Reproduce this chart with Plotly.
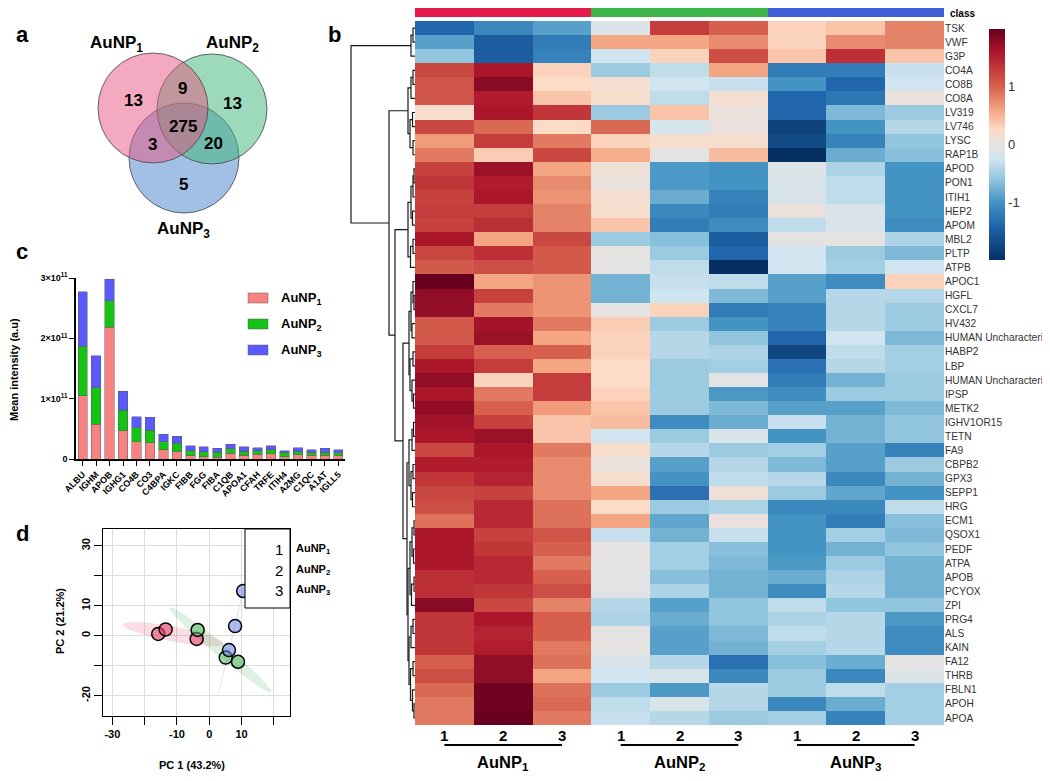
import numpy as np
import plotly.graph_objects as go

# The page body has an 8 px margin, so the figure is sized to fit the
# 1050x781 window exactly and all layout positions are given in window pixels.
OFF = 8
W, H = 1050 - 2 * OFF, 781 - 2 * OFF
FONT = "Liberation Sans, Arial, Helvetica, sans-serif"


def clamp(v):
    return max(0.0, min(1.0, v))


def fx(p):
    return (p - OFF) / W


def fy(p):
    return 1 - (p - OFF) / H


def xdom(a, b):
    return [clamp(fx(a)), clamp(fx(b))]


def ydom(top, bottom):
    return [clamp(fy(bottom)), clamp(fy(top))]


# ------------------------------------------------------------------ data
# (a) Venn diagram
venn_labels = ["AuNP<sub>1</sub>", "AuNP<sub>2</sub>", "AuNP<sub>3</sub>"]
venn_regions = ["1", "12", "2", "123", "13", "23", "3"]
venn_counts = [13, 9, 13, 275, 3, 20, 5]

# (c) stacked bars, mean intensity in units of 1e11
bar_proteins = ["ALBU", "IGHM", "APOB", "IGHG1", "CO4B", "CO3", "C4BPA", "IGKC",
                "FIBB", "FGG", "FIBA", "C1QB", "APOA1", "CFAH", "TRFE", "ITIH4",
                "A2MG", "C1QC", "A1AT", "IGLL5"]
bar_aunp1_e11 = [1.05, 0.575, 2.18, 0.47, 0.287, 0.27, 0.15, 0.12, 0.05, 0.04,
                 0.03, 0.094, 0.06, 0.08, 0.09, 0.04, 0.07, 0.06, 0.06, 0.05]
bar_aunp2_e11 = [0.82, 0.605, 0.44, 0.34, 0.233, 0.21, 0.14, 0.14, 0.09, 0.08,
                 0.08, 0.072, 0.07, 0.06, 0.06, 0.06, 0.05, 0.05, 0.055, 0.05]
bar_aunp3_e11 = [0.90, 0.53, 0.36, 0.31, 0.18, 0.21, 0.12, 0.12, 0.08, 0.08,
                 0.07, 0.078, 0.07, 0.05, 0.07, 0.04, 0.07, 0.04, 0.065, 0.05]
series_names = ["AuNP<sub>1</sub>", "AuNP<sub>2</sub>", "AuNP<sub>3</sub>"]
bar_ticks_e11 = [0, 1, 2, 3]

# (d) PCA scores
pca_classes = ["1", "2", "3"]
pca_pc1 = [[-15.8, -13.5, -3.9], [-3.6, 5.1, 8.9], [10.5, 8.0, 6.1]]
pca_pc2 = [[0.6, 2.1, -1.1], [1.9, -7.3, -8.7], [14.9, 3.2, -4.8]]
pca_xticks_labeled = [-30, -10, 0, 10]
pca_xticks_all = [-30, -20, -10, 0, 10, 20]
pca_yticks_labeled = [-20, 0, 10, 30]
pca_yticks_all = [-20, -10, 0, 10, 20, 30]

# (b) heatmap (z-scores)
heat_rows = ["TSK", "VWF", "G3P", "CO4A", "CO8B", "CO8A", "LV319", "LV746", "LYSC",
             "RAP1B", "APOD", "PON1", "ITIH1", "HEP2", "APOM", "MBL2", "PLTP", "ATPB",
             "APOC1", "HGFL", "CXCL7", "HV432", "HUMAN Uncharacteri", "HABP2", "LBP",
             "HUMAN Uncharacteri", "IPSP", "METK2", "IGHV1OR15", "TETN", "FA9",
             "CBPB2", "GPX3", "SEPP1", "HRG", "ECM1", "QSOX1", "PEDF", "ATPA", "APOB",
             "PCYOX", "ZPI", "PRG4", "ALS", "KAIN", "FA12", "THRB", "FBLN1", "APOH",
             "APOA"]
heat_cols = ["1", "2", "3", "1", "2", "3", "1", "2", "3"]
heat_class = [0, 0, 0, 1, 1, 1, 2, 2, 2]
heat_groups = ["AuNP<sub>1</sub>", "AuNP<sub>2</sub>", "AuNP<sub>3</sub>"]
heat_values = [
    [-1.4, -1.1, -0.9, -0.1, 1.3, 1.0, 0.3, 0.4, 0.8],
    [-0.9, -1.5, -1.2, 0.6, 0.6, 0.75, 0.3, 0.75, 0.8],
    [-0.6, -1.5, -1.15, -0.25, 0.3, 1.15, 0.4, 1.4, 0.4],
    [1.2, 1.6, 0.3, -0.55, -0.35, 0.6, -1.2, -1.2, -0.3],
    [1.1, 1.8, 0.25, 0.15, -0.25, -0.3, -1.0, -1.4, -0.25],
    [1.1, 1.55, 0.4, 0.2, -0.35, 0.15, -1.4, -1.25, 0.05],
    [0.2, 1.6, 1.35, -0.55, 0.4, 0.05, -1.4, -0.7, -0.55],
    [1.2, 0.95, 0.25, 0.95, -0.2, 0.05, -1.8, -1.0, -0.4],
    [0.65, 1.3, 0.85, 0.3, 0.2, 0.2, -1.7, -1.15, -0.6],
    [0.85, 0.35, 1.2, 0.55, 0.0, 0.45, -2.0, -0.8, -0.65],
    [1.25, 1.7, 0.6, 0.1, -0.95, -1.0, -0.1, -0.45, -1.0],
    [1.35, 1.55, 0.75, 0.05, -0.95, -1.0, -0.15, -0.35, -1.0],
    [1.25, 1.6, 0.7, 0.15, -0.8, -1.15, -0.15, -0.35, -1.0],
    [1.3, 1.3, 0.8, 0.2, -1.1, -1.2, 0.05, -0.15, -1.0],
    [1.25, 1.4, 0.8, 0.4, -1.2, -1.05, -0.35, -0.15, -1.05],
    [1.6, 0.6, 1.2, -0.55, -0.65, -1.5, 0.0, 0.0, -0.45],
    [1.2, 1.4, 1.05, 0.0, -0.55, -1.4, -0.25, -0.55, -0.7],
    [1.05, 1.15, 1.05, 0.0, -0.35, -2.0, -0.25, -0.5, -0.25],
    [2.0, 0.6, 0.7, -0.75, -0.3, -0.35, -0.9, -1.05, 0.3],
    [1.75, 1.25, 0.7, -0.75, -0.25, -0.7, -0.9, -0.4, -0.4],
    [1.75, 0.85, 0.7, 0.0, 0.3, -1.2, -1.15, -0.4, -0.55],
    [1.05, 1.65, 0.85, 0.35, -0.55, -1.0, -1.15, -0.4, -0.55],
    [1.05, 1.7, 0.6, 0.3, -0.4, -0.6, -1.4, -0.25, -0.7],
    [1.3, 1.0, 1.0, 0.3, -0.4, -0.45, -1.75, -0.35, -0.5],
    [1.6, 1.3, 0.6, 0.25, -0.55, -0.5, -1.3, -0.4, -0.5],
    [1.75, 0.3, 1.3, 0.25, -0.55, -0.05, -1.2, -0.75, -0.55],
    [1.6, 0.85, 1.3, 0.3, -0.55, -0.95, -1.05, -0.55, -0.55],
    [1.75, 1.0, 0.65, 0.4, -0.55, -0.7, -0.9, -0.9, -0.7],
    [1.65, 1.25, 0.4, 0.45, -1.05, -0.8, -0.3, -0.75, -0.6],
    [1.6, 1.7, 0.4, -0.25, -0.55, -0.15, -1.0, -0.75, -0.6],
    [1.2, 1.6, 0.85, 0.2, -0.4, -0.55, -0.5, -0.9, -1.15],
    [1.55, 1.55, 0.75, 0.05, -0.9, -0.4, -0.7, -0.9, -0.55],
    [1.35, 1.5, 0.75, 0.2, -1.0, -0.35, -0.4, -1.1, -0.75],
    [1.2, 1.25, 0.75, 0.6, -1.3, 0.1, -0.55, -0.85, -1.0],
    [1.15, 1.45, 0.9, 0.25, -0.55, -0.45, -1.1, -1.1, -0.35],
    [0.9, 1.45, 0.9, 0.6, -0.85, 0.05, -1.0, -1.2, -0.65],
    [1.6, 1.25, 1.1, -0.3, -0.75, -0.3, -1.0, -0.5, -0.7],
    [1.6, 1.35, 1.0, 0.0, -0.5, -0.65, -1.0, -0.75, -0.6],
    [1.6, 1.45, 0.85, 0.0, -0.5, -0.7, -0.95, -0.55, -0.75],
    [1.4, 1.45, 1.0, -0.05, -0.65, -0.75, -0.8, -0.45, -0.75],
    [1.4, 1.35, 1.15, -0.05, -0.45, -0.75, -1.05, -0.4, -0.75],
    [1.8, 1.2, 0.8, -0.4, -0.9, -0.6, -0.35, -0.6, -0.6],
    [1.35, 1.6, 1.0, -0.45, -0.8, -0.6, -0.45, -0.4, -0.95],
    [1.35, 1.5, 1.0, 0.0, -0.9, -0.7, -0.35, -0.4, -1.05],
    [1.35, 1.55, 0.85, 0.0, -0.9, -0.75, -0.5, -0.4, -1.05],
    [1.0, 1.75, 0.9, -0.15, -0.4, -1.3, -0.65, -0.8, 0.0],
    [1.15, 1.75, 0.6, -0.25, -0.15, -1.1, -0.55, -1.1, -0.1],
    [0.95, 1.95, 0.9, -0.55, -0.95, -0.4, -0.55, -0.35, -0.5],
    [0.85, 1.95, 0.95, -0.35, -0.15, -0.4, -1.1, -0.8, -0.5],
    [0.85, 2.0, 0.85, -0.3, -0.4, -0.55, -0.5, -1.15, -0.5],
]
colorbar_ticks = [-1, 0, 1]

# row dendrogram: (height, left, right); leaves are row indices
dendro_tree = (64,
               (4, (2, 0, 1), 2),
               (26,
                (7, (4, (2, 3, 4), 5), (5, (2.5, 6, 7), (2, 8, 9))),
                (20,
                 (7, (4, (2, (1, 10, 11), 12), (2.5, 13, 14)), (4.5, (2, 15, 16), 17)),
                 (12,
                  (6, (4, (2, 18, (1, 19, 20)), (3, 21, 22)),
                   (5, (2, 23, 24), (3, 25, (1.5, 26, 27)))),
                  (8, (6, (3, (1.5, 28, 29), 30), (4, (2, 31, 32), (2.5, 33, 34))),
                   (7, (5, (3, (1, 35, 36), (1.5, 37, 38)), (3.5, (1, 39, 40), 41)),
                    (6, (4, (2, 42, 43), 44),
                     (4.5, (2, 45, 46), (2.5, 47, (1, 48, 49))))))))))

# ------------------------------------------------------------------ styles
venn_geom = [(153, 108, 55), (212, 109, 55), (184, 158, 55)]
venn_fill = ["rgba(231,84,128,0.5)", "rgba(60,180,120,0.5)", "rgba(70,130,200,0.5)"]
venn_label_pos = [(116, 44), (232, 44), (183, 230)]
venn_region_pos = {"1": (133, 100), "12": (182, 88), "2": (232, 103), "123": (183, 126),
                   "13": (152, 144), "23": (213, 143), "3": (183, 184)}
bar_colors = ["rgb(247,130,130)", "rgb(20,195,20)", "rgb(90,90,250)"]
pca_line_colors = ["rgb(220,30,80)", "rgb(50,170,70)", "rgb(70,90,220)"]
pca_fill = ["rgba(232,70,110,0.6)", "rgba(80,185,100,0.55)", "rgba(110,130,230,0.55)"]
pca_ell = ["rgba(232,70,110,0.18)", "rgba(80,185,100,0.2)", "rgba(110,130,230,0.15)"]
class_colors = ["rgb(228,26,74)", "rgb(60,180,72)", "rgb(65,94,214)"]
heat_scale = [
    [0.0, "rgb(5,48,97)"], [0.15, "rgb(33,102,172)"], [0.25, "rgb(67,147,195)"],
    [0.35, "rgb(146,197,222)"], [0.4375, "rgb(209,229,240)"], [0.5, "rgb(229,227,225)"],
    [0.5625, "rgb(252,219,199)"], [0.65, "rgb(244,165,130)"], [0.75, "rgb(214,96,77)"],
    [0.825, "rgb(196,60,60)"], [0.9, "rgb(172,22,43)"], [1.0, "rgb(103,0,31)"],
]

fig = go.Figure()
ann = []
shapes = []

# ------------------------------------------------------------------ (a) Venn
for i in [2, 1, 0]:
    cx, cy, r = venn_geom[i]
    shapes.append(dict(type="circle", xref="x", yref="y", x0=cx - r, x1=cx + r,
                       y0=cy - r, y1=cy + r, fillcolor=venn_fill[i],
                       line=dict(color="rgba(70,70,70,0.8)", width=1)))
for i, lab in enumerate(venn_labels):
    x, y = venn_label_pos[i]
    ann.append(dict(x=x, y=y, xref="x", yref="y", text=lab, showarrow=False,
                    font=dict(size=17, weight="bold")))
for reg, cnt in zip(venn_regions, venn_counts):
    x, y = venn_region_pos[reg]
    ann.append(dict(x=x, y=y, xref="x", yref="y", text=str(cnt), showarrow=False,
                    font=dict(size=17, weight="bold")))

# ------------------------------------------------------------------ (c) bars
idx = list(range(len(bar_proteins)))
for name, vals, col in zip(series_names, [bar_aunp1_e11, bar_aunp2_e11, bar_aunp3_e11], bar_colors):
    fig.add_trace(go.Bar(x=idx, y=[v * 1e11 for v in vals], name=name, xaxis="x2", yaxis="y2",
                         marker=dict(color=col, line=dict(color="rgba(90,90,90,0.7)", width=0.7)),
                         showlegend=False))
for i, (name, col) in enumerate(zip(series_names, bar_colors)):
    yc = 298 + i * 26
    shapes.append(dict(type="rect", xref="paper", yref="paper", x0=fx(248), x1=fx(268),
                       y0=fy(yc + 5), y1=fy(yc - 5), fillcolor=col,
                       line=dict(color="rgba(90,90,90,0.7)", width=0.7)))
    ann.append(dict(x=fx(279), y=fy(yc), xref="paper", yref="paper", text=name,
                    xanchor="left", showarrow=False, font=dict(size=13, weight="bold")))
ann.append(dict(x=fx(14), y=fy(370), xref="paper", yref="paper", text="Mean intensity (a.u)",
                textangle=-90, showarrow=False, font=dict(size=11, weight="bold")))

# ------------------------------------------------------------------ (d) PCA
def conf_ellipse(xs, ys, n=120):
    x = np.asarray(xs, float)
    y = np.asarray(ys, float)
    cov = np.cov(x, y)
    vals, vecs = np.linalg.eigh(cov)
    k = np.sqrt(5.991)
    t = np.linspace(0, 2 * np.pi, n)
    circ = np.vstack([np.cos(t), np.sin(t)])
    pts = vecs @ (np.sqrt(np.maximum(vals, 1e-6))[:, None] * k * circ)
    return x.mean() + pts[0], y.mean() + pts[1]


for i in range(3):
    ex, ey = conf_ellipse(pca_pc1[i], pca_pc2[i])
    fig.add_trace(go.Scatter(x=ex, y=ey, mode="lines", fill="toself", fillcolor=pca_ell[i],
                             line=dict(width=0.5, color=pca_ell[i]), xaxis="x3", yaxis="y3",
                             showlegend=False, hoverinfo="skip"))
for i in range(3):
    fig.add_trace(go.Scatter(x=pca_pc1[i], y=pca_pc2[i], mode="markers", xaxis="x3", yaxis="y3",
                             marker=dict(size=13, color=pca_fill[i],
                                         line=dict(color="black", width=1.5)),
                             showlegend=False))
# legend box
shapes.append(dict(type="rect", xref="paper", yref="paper", x0=fx(245), x1=fx(290),
                   y0=fy(608), y1=fy(529), fillcolor="white", line=dict(color="black", width=1)))
leg_y = [549, 570, 590]
fig.add_trace(go.Scatter(x=[260] * 3, y=leg_y, mode="markers", xaxis="x7", yaxis="y7",
                         marker=dict(symbol="circle-open", size=9, color=pca_line_colors,
                                     line=dict(width=1.5)),
                         showlegend=False, hoverinfo="skip"))
for i, c in enumerate(pca_classes):
    ann.append(dict(x=fx(273), y=fy(leg_y[i]), xref="paper", yref="paper", text=c,
                    xanchor="left", showarrow=False, font=dict(size=15)))
    ann.append(dict(x=fx(294), y=fy(leg_y[i]), xref="paper", yref="paper", text=heat_groups[i],
                    xanchor="left", showarrow=False, font=dict(size=11, weight="bold")))
ann.append(dict(x=fx(192), y=fy(765), xref="paper", yref="paper", text="PC 1 (43.2%)",
                showarrow=False, font=dict(size=11, weight="bold")))
ann.append(dict(x=fx(60), y=fy(621), xref="paper", yref="paper", text="PC 2 (21.2%)",
                textangle=-90, showarrow=False, font=dict(size=11, weight="bold")))

# ------------------------------------------------------------------ (b) heatmap
nrow = len(heat_rows)
fig.add_trace(go.Heatmap(z=heat_values, x=list(range(9)), y=list(range(nrow)),
                         colorscale=heat_scale, zmin=-2, zmax=2, xaxis="x4", yaxis="y4",
                         colorbar=dict(x=fx(989), xanchor="left", y=fy(29), yanchor="top",
                                       len=(260 - 29) / H, lenmode="fraction", thickness=16,
                                       outlinewidth=0, tickvals=colorbar_ticks,
                                       ticktext=[str(t) for t in colorbar_ticks],
                                       tickfont=dict(size=13, color="#333"), ticks="",
                                       xpad=0, ypad=0)))
fig.add_trace(go.Heatmap(z=[heat_class], x=list(range(9)), y=[0],
                         colorscale=[[0, class_colors[0]], [0.333, class_colors[0]],
                                     [0.334, class_colors[1]], [0.666, class_colors[1]],
                                     [0.667, class_colors[2]], [1, class_colors[2]]],
                         zmin=0, zmax=2, showscale=False, xaxis="x5", yaxis="y5"))
ann.append(dict(x=fx(948), y=fy(14), xref="paper", yref="paper", text="class", xanchor="left",
                showarrow=False, font=dict(size=10, weight="bold")))

# dendrogram
seg_x, seg_y = [], []


def walk(node):
    if isinstance(node, int):
        return float(node), 0.0
    h, left, right = node
    yl, hl = walk(left)
    yr, hr = walk(right)
    seg_x.extend([hl, h, h, hr, None])
    seg_y.extend([yl, yl, yr, yr, None])
    return (yl + yr) / 2, h


walk(dendro_tree)
fig.add_trace(go.Scatter(x=seg_x, y=seg_y, mode="lines", xaxis="x6", yaxis="y6",
                         line=dict(color="rgb(25,25,25)", width=1.2), showlegend=False,
                         hoverinfo="skip"))

# column numbers, underlines, group labels
for j, c in enumerate(heat_cols):
    ann.append(dict(x=j, y=fy(735), xref="x4", yref="paper", text=c, showarrow=False,
                    font=dict(size=15, weight="bold")))
for g, name in enumerate(heat_groups):
    cols = [j for j in range(9) if heat_class[j] == g]
    shapes.append(dict(type="line", xref="x4", yref="paper", x0=cols[0], x1=cols[-1],
                       y0=fy(745), y1=fy(745), line=dict(color="black", width=2)))
    ann.append(dict(x=(cols[0] + cols[-1]) / 2, y=fy(763), xref="x4", yref="paper", text=name,
                    showarrow=False, font=dict(size=16.5, weight="bold")))

# panel letters
for letter, (x, y) in zip("abcd", [(22, 35), (334, 35), (22, 252), (22, 533)]):
    ann.append(dict(x=fx(x), y=fy(y), xref="paper", yref="paper", text=letter, showarrow=False,
                    font=dict(size=22, weight="bold")))

for a in ann:
    a.setdefault("xanchor", "center")
    a.setdefault("yanchor", "middle")

# ------------------------------------------------------------------ layout
hidden = dict(visible=False, showgrid=False, zeroline=False, automargin=False)
pca_grid = dict(ticks="outside", ticklen=8, tickcolor="black", tickwidth=1,
                showgrid=True, gridcolor="rgb(220,220,220)", gridwidth=1.2)
fig.update_layout(
    template="none",
    width=W, height=H, margin=dict(l=0, r=0, t=0, b=0, pad=0, autoexpand=False),
    paper_bgcolor="white", plot_bgcolor="rgba(0,0,0,0)",
    font=dict(family=FONT, color="black"),
    barmode="stack", bargap=0.3, showlegend=False,
    xaxis=dict(domain=xdom(OFF, 330), range=[OFF, 330], **hidden),
    yaxis=dict(domain=ydom(OFF, 290), range=[290, OFF], **hidden),
    xaxis2=dict(domain=xdom(76, 345), range=[-0.5, len(bar_proteins) - 0.5], anchor="y2",
                tickmode="array", tickvals=idx, ticktext=bar_proteins, tickangle=-45,
                tickfont=dict(size=9, weight="bold"), ticks="outside", ticklen=5,
                tickcolor="black", showline=True, linecolor="black", linewidth=1.5,
                showgrid=False, zeroline=False, automargin=False),
    yaxis2=dict(domain=ydom(278, 459), range=[0, 3e11], anchor="x2",
                tickmode="array", tickvals=[t * 1e11 for t in bar_ticks_e11],
                ticktext=["0" if t == 0 else f"{t}×10<sup>11</sup>" for t in bar_ticks_e11],
                tickfont=dict(size=9, weight="bold"), ticks="outside", ticklen=5,
                tickcolor="black", showline=True, linecolor="black", linewidth=1.5,
                showgrid=False, zeroline=False, automargin=False),
    xaxis3=dict(domain=xdom(103, 290), range=[-32.9, 25], anchor="y3",
                tickmode="array", tickvals=pca_xticks_labeled,
                ticktext=[str(v) for v in pca_xticks_labeled],
                tickfont=dict(size=11, weight="bold"),
                minor=dict(tickmode="array", tickvals=pca_xticks_all, **pca_grid),
                showline=True, mirror=True, linecolor="black", linewidth=1.2,
                zeroline=False, automargin=False, **pca_grid),
    yaxis3=dict(domain=ydom(529, 716), range=[-26.8, 35.6], anchor="x3",
                tickmode="array", tickvals=pca_yticks_labeled,
                ticktext=[str(v) for v in pca_yticks_labeled],
                tickangle=-90, tickfont=dict(size=11, weight="bold"),
                minor=dict(tickmode="array", tickvals=pca_yticks_all, **pca_grid),
                showline=True, mirror=True, linecolor="black", linewidth=1.2,
                zeroline=False, automargin=False, **pca_grid),
    xaxis4=dict(domain=xdom(415, 944), range=[-0.5, 8.5], anchor="y4", **hidden),
    yaxis4=dict(domain=ydom(21, 725), range=[nrow - 0.5, -0.5], anchor="x4", side="right",
                tickmode="array", tickvals=list(range(nrow)), ticktext=heat_rows,
                tickfont=dict(size=10.2, color="#333"), ticks="", showgrid=False,
                zeroline=False, showline=False, automargin=False),
    xaxis5=dict(domain=xdom(415, 944), range=[-0.5, 8.5], anchor="y5", **hidden),
    yaxis5=dict(domain=ydom(8, 17), range=[-0.5, 0.5], anchor="x5", **hidden),
    xaxis6=dict(domain=xdom(340, 415), range=[75, 0], anchor="y6", **hidden),
    yaxis6=dict(domain=ydom(21, 725), range=[nrow - 0.5, -0.5], anchor="x6", **hidden),
    xaxis7=dict(domain=[0, 1], range=[OFF, OFF + W], anchor="y7", **hidden),
    yaxis7=dict(domain=[0, 1], range=[OFF + H, OFF], anchor="x7", **hidden),
    annotations=ann, shapes=shapes,
)

fig.write_html("out.html")
